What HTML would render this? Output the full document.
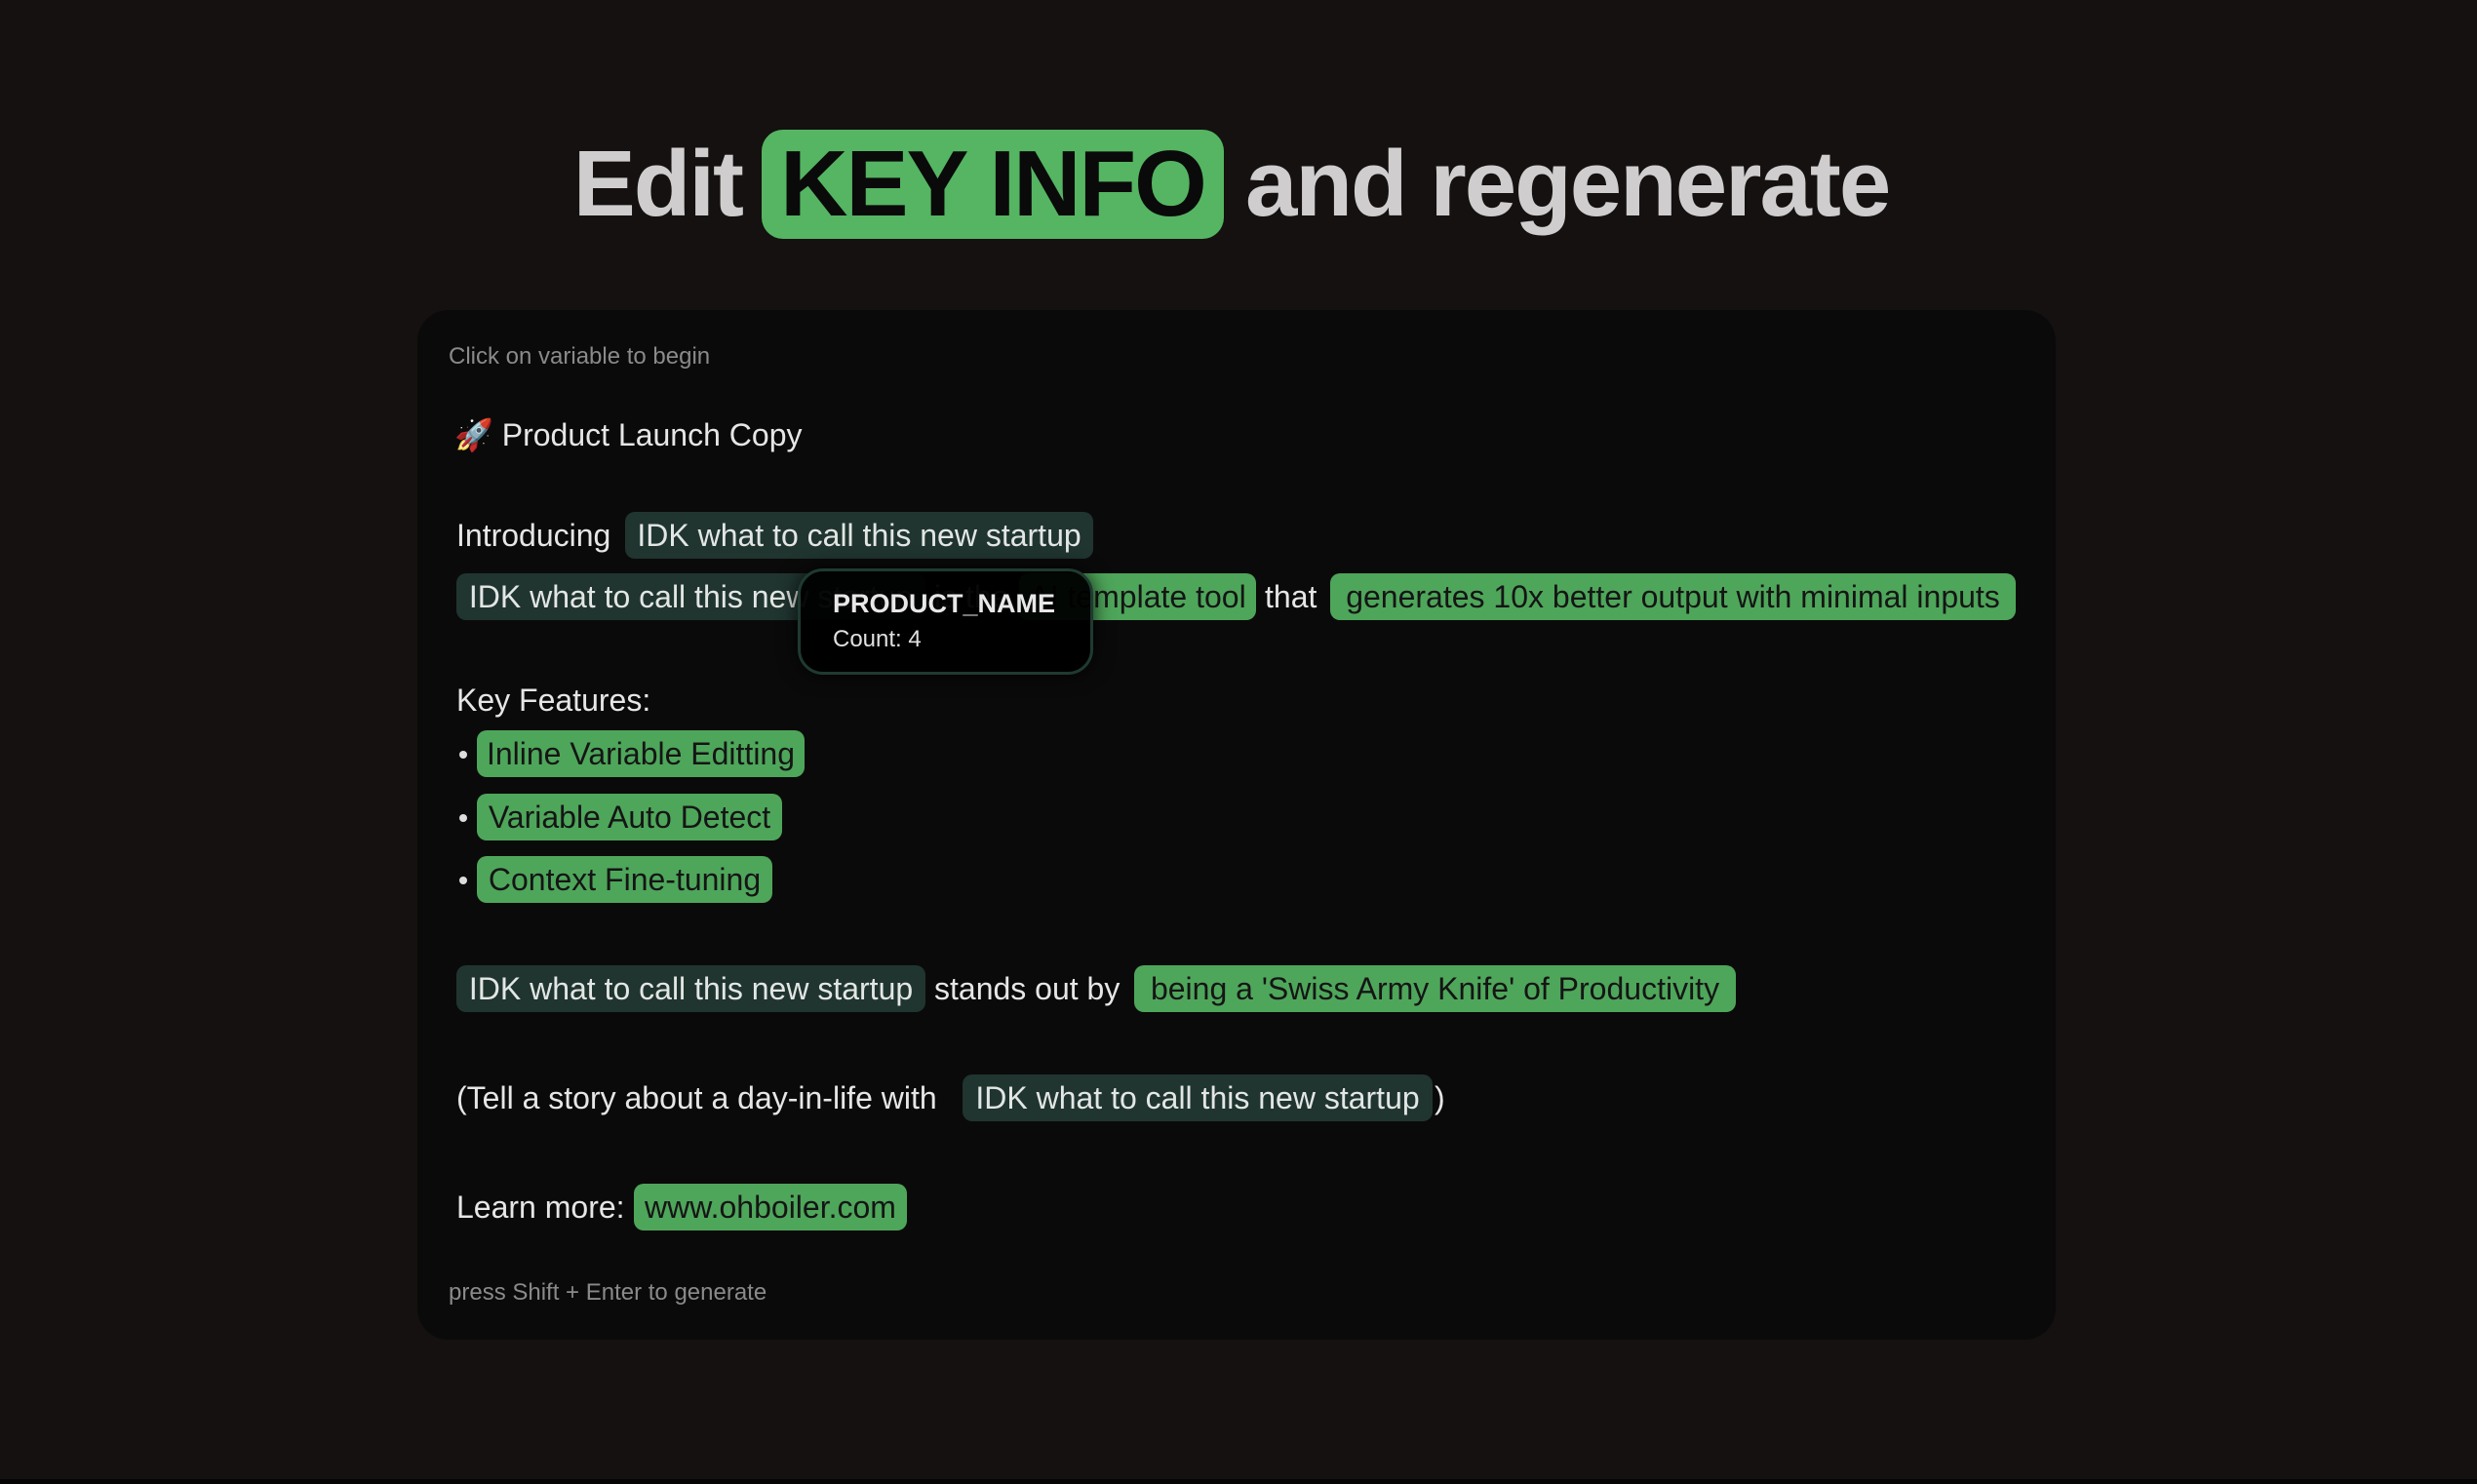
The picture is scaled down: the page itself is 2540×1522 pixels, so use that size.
<!DOCTYPE html>
<html><head><meta charset="utf-8">
<style>
*{margin:0;padding:0;box-sizing:border-box}
body{width:2540px;height:1522px;background:#141110;overflow:hidden;position:relative;font-family:"Liberation Sans",sans-serif}
.title{position:absolute;top:133px;left:0;width:2540px;height:112px;font-weight:bold;font-size:96px;color:#cfcdcd;letter-spacing:-2px}
.title span{position:absolute;top:0;line-height:112px}
.key{background:#55b562;color:#0a0a0a;border-radius:22px;text-align:center}
.card{position:absolute;left:428px;top:318px;width:1680px;height:1056px;background:#0b0a0a;border-radius:32px}
.t{position:absolute;color:#e6e6e6;font-size:32px;line-height:48px;white-space:nowrap}
.s{position:absolute;color:#8a8a8a;font-size:24px;line-height:30px;white-space:nowrap}
.c{position:absolute;height:48px;line-height:48px;border-radius:10px;font-size:32px;white-space:nowrap;text-align:center;overflow:hidden}
.g{background:#4ea65a;color:#151515}
.d{background:#203530;color:#e2e6e4}
.dot{position:absolute;width:8px;height:8px;border-radius:50%;background:#ddd}
.tip{position:absolute;left:818px;top:583px;width:303px;height:109px;background:rgba(0,0,0,0.96);border:3px solid #1f3a30;border-radius:26px;box-shadow:0 0 20px rgba(0,0,0,.8)}
</style></head><body>
<div class="title">
<span style="left:561px;width:200px;text-align:right">Edit</span>
<span class="key" style="left:781px;width:474px">KEY INFO</span>
<span style="left:1277px">and regenerate</span>
</div>
<div class="card"></div>
<div class="s" style="left:460px;top:351px">Click on variable to begin</div>
<div class="t" style="left:466px;top:422px">🚀 Product Launch Copy</div>

<div class="t" style="left:468px;top:525px">Introducing</div>
<div class="c d" style="left:641px;top:525px;width:480px">IDK what to call this new startup</div>

<div class="c d" style="left:468px;top:588px;width:481px">IDK what to call this new startup</div>
<div class="t" style="left:958px;top:588px">is the</div>
<div class="c g" style="left:1045px;top:588px;width:243px">AI template tool</div>
<div class="t" style="left:1297px;top:588px">that</div>
<div class="c g" style="left:1364px;top:588px;width:703px">generates 10x better output with minimal inputs</div>

<div class="tip">
<div style="position:absolute;left:33px;top:18px;color:#e8e8e8;font-weight:bold;font-size:27px">PRODUCT_NAME</div>
<div style="position:absolute;left:33px;top:56px;color:#e0e0e0;font-size:24px">Count: 4</div>
</div>

<div class="t" style="left:468px;top:694px">Key Features:</div>
<div class="dot" style="left:471px;top:770px"></div>
<div class="c g" style="left:489px;top:749px;width:336px">Inline Variable Editting</div>
<div class="dot" style="left:471px;top:835px"></div>
<div class="c g" style="left:489px;top:814px;width:313px">Variable Auto Detect</div>
<div class="dot" style="left:471px;top:899px"></div>
<div class="c g" style="left:489px;top:878px;width:303px">Context Fine-tuning</div>

<div class="c d" style="left:468px;top:990px;width:481px">IDK what to call this new startup</div>
<div class="t" style="left:958px;top:990px">stands out by</div>
<div class="c g" style="left:1163px;top:990px;width:617px">being a 'Swiss Army Knife' of Productivity</div>

<div class="t" style="left:468px;top:1102px">(Tell a story about a day-in-life with</div>
<div class="c d" style="left:987px;top:1102px;width:482px">IDK what to call this new startup</div>
<div class="t" style="left:1471px;top:1102px">)</div>

<div class="t" style="left:468px;top:1214px">Learn more:</div>
<div class="c g" style="left:650px;top:1214px;width:280px">www.ohboiler.com</div>

<div class="s" style="left:460px;top:1311px">press Shift + Enter to generate</div>
<div style="position:absolute;left:0;top:1517px;width:2540px;height:5px;background:#050505"></div>
</body></html>
